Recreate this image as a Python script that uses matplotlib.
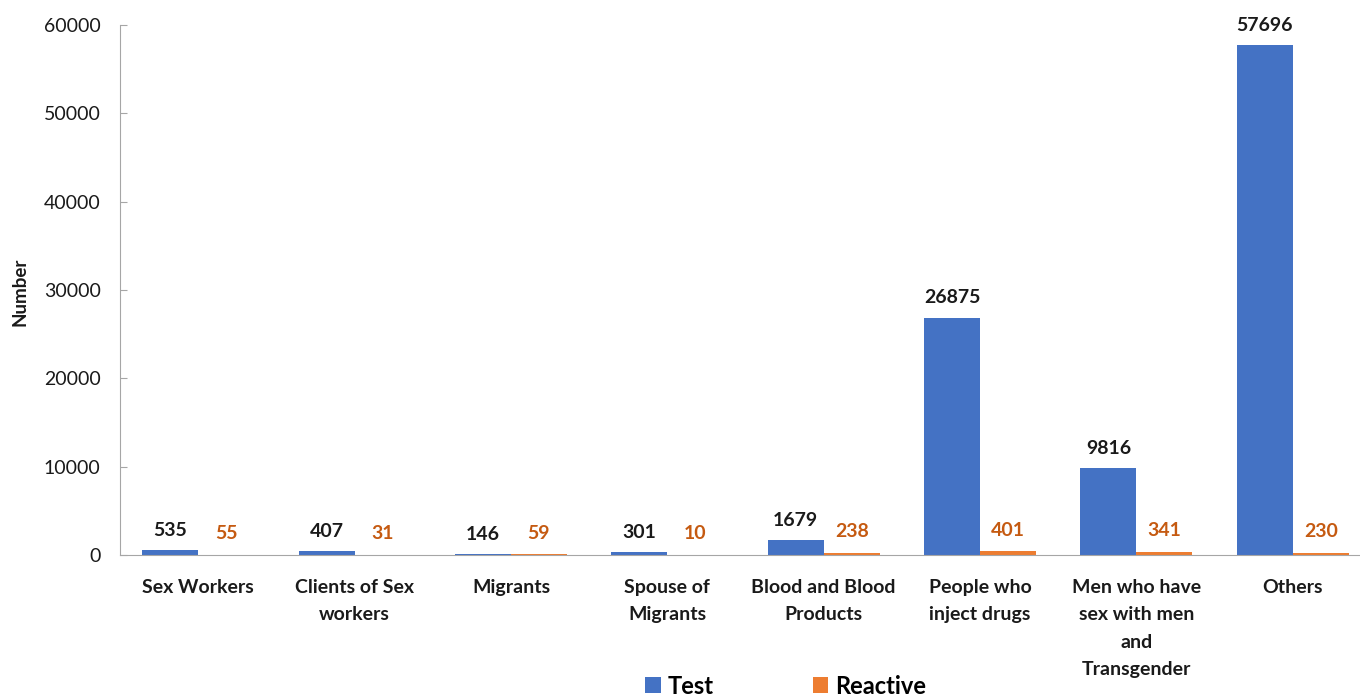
import matplotlib.pyplot as plt
import numpy as np

plt.rcParams['font.family'] = ['Lato', 'DejaVu Sans']

categories = ['Sex Workers', 'Clients of Sex\nworkers', 'Migrants', 'Spouse of\nMigrants',
              'Blood and Blood\nProducts', 'People who\ninject drugs',
              'Men who have\nsex with men\nand\nTransgender', 'Others']
test = [535, 407, 146, 301, 1679, 26875, 9816, 57696]
reactive = [55, 31, 59, 10, 238, 401, 341, 230]

blue = '#4472C4'
orange = '#ED7D31'

fig = plt.figure(figsize=(13.6, 6.96), dpi=100)
ax = fig.add_axes([120/1360, 1-555/696, 1251/1360, 530/696])

x = np.arange(len(categories))
w = 0.358
b1 = ax.bar(x - w/2, test, w, color=blue, label='Test')
b2 = ax.bar(x + w/2, reactive, w, color=orange, label='Reactive')

for rect, v in zip(b1, test):
    ax.annotate(f'{v}', (rect.get_x() + rect.get_width()/2, v), xytext=(0, 8),
                textcoords='offset points', ha='center', va='bottom',
                fontsize=14, fontweight='bold', color='#1a1a1a')
for rect, v in zip(b2, reactive):
    ax.annotate(f'{v}', (rect.get_x() + rect.get_width()/2, v), xytext=(0, 9),
                textcoords='offset points', ha='center', va='bottom',
                fontsize=14, fontweight='bold', color='#C55A11')

ax.set_xlim(-0.5, len(categories) - 0.5)
ax.set_ylim(0, 60000)
ax.set_yticks(range(0, 60001, 10000))
ax.set_xticks(x)
ax.set_xticklabels(categories, fontsize=14, fontweight='bold', color='#1a1a1a',
                   linespacing=1.75)
ax.tick_params(axis='x', length=0, pad=17)
ax.tick_params(axis='y', direction='in', length=5, color='#A6A6A6',
               labelsize=14, labelcolor='#1a1a1a', pad=14)

for s in ['top', 'right']:
    ax.spines[s].set_visible(False)
for s in ['left', 'bottom']:
    ax.spines[s].set_color('#A6A6A6')

fig.text(20/1360, 1-292/696, 'Number', rotation=90, ha='center', va='center',
         fontsize=13.5, fontweight='bold', color='#1a1a1a')

fig.legend(handles=[b1, b2], loc='center', bbox_to_anchor=(786/1360, 1-686/696),
           ncol=2, frameon=False, handlelength=0.65, handleheight=0.65,
           columnspacing=4.2, handletextpad=0.3, prop={'weight': 'bold', 'size': 17})

fig.savefig('out.png', dpi=100)
